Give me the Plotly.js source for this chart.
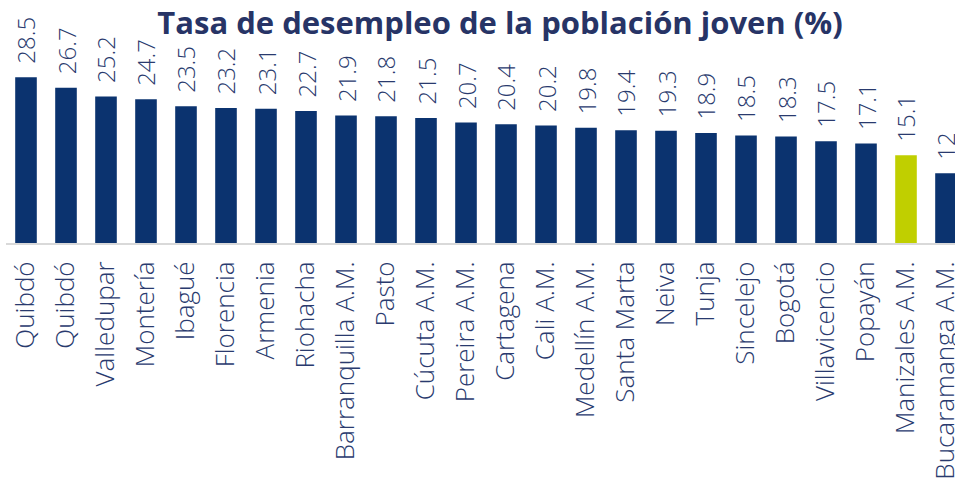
<!DOCTYPE html>
<html>
<head>
<meta charset="utf-8">
<script src="https://cdn.plot.ly/plotly-3.0.1.min.js"></script>
<style>html,body{margin:0;padding:0;background:#fff;}#chart{width:955px;height:487px;}</style>
</head>
<body>
<div id="chart"></div>
<script>
const cities = ["Quibdó","Quibdó","Valledupar","Montería","Ibagué","Florencia","Armenia","Riohacha","Barranquilla A.M.","Pasto","Cúcuta A.M.","Pereira A.M.","Cartagena","Cali A.M.","Medellín A.M.","Santa Marta","Neiva","Tunja","Sincelejo","Bogotá","Villavicencio","Popayán","Manizales A.M.","Bucaramanga A.M."];
const rates = [28.5,26.7,25.2,24.7,23.5,23.2,23.1,22.7,21.9,21.8,21.5,20.7,20.4,20.2,19.8,19.4,19.3,18.9,18.5,18.3,17.5,17.1,15.1,12];
const highlightCity = "Manizales A.M.";

const navy = "#0b336f";
const green = "#c0cf00";
const textColor = "#293a6e";
const fontFam = "'Open Sans', 'DejaVu Sans', sans-serif";

const idx = cities.map((c, i) => i);
const colors = cities.map(c => c === highlightCity ? green : navy);

const trace = {
  type: "bar",
  x: idx,
  y: rates,
  width: 0.54,
  marker: {color: colors, line: {width: 0}},
  hoverinfo: "skip"
};

const annotations = rates.map((v, i) => ({
  x: i, y: v, xref: "x", yref: "y",
  text: String(v),
  textangle: -90,
  showarrow: false,
  yanchor: "bottom",
  xanchor: "center",
  yshift: 11,
  font: {family: fontFam, size: 24, color: textColor, weight: 300}
}));

const layout = {
  width: 955, height: 487,
  margin: {l: 6, r: 0, t: 40, b: 244, pad: 0},
  paper_bgcolor: "#fff", plot_bgcolor: "#fff",
  showlegend: false,
  title: {
    text: "<b>Tasa de desempleo de la población joven (%)</b>",
    xref: "container", yref: "container",
    x: 0.5236, y: 0.953, xanchor: "center", yanchor: "middle",
    font: {family: fontFam, size: 31, color: "#273466"}
  },
  xaxis: {
    range: [-0.5, 23.225],
    tickvals: idx, ticktext: cities,
    tickangle: -90,
    ticks: "",
    ticklabelstandoff: 6,
    ticklabeloverflow: "allow",
    showgrid: false, zeroline: false,
    showline: true, linecolor: "#d9d9d9", linewidth: 2,
    tickfont: {family: fontFam, size: 26, color: textColor, weight: 300},
    fixedrange: true
  },
  yaxis: {
    range: [0, 34.9],
    visible: false, showgrid: false, zeroline: false,
    fixedrange: true
  },
  annotations: annotations
};

Plotly.newPlot("chart", [trace], layout, {displayModeBar: false, staticPlot: true});
</script>
</body>
</html>
